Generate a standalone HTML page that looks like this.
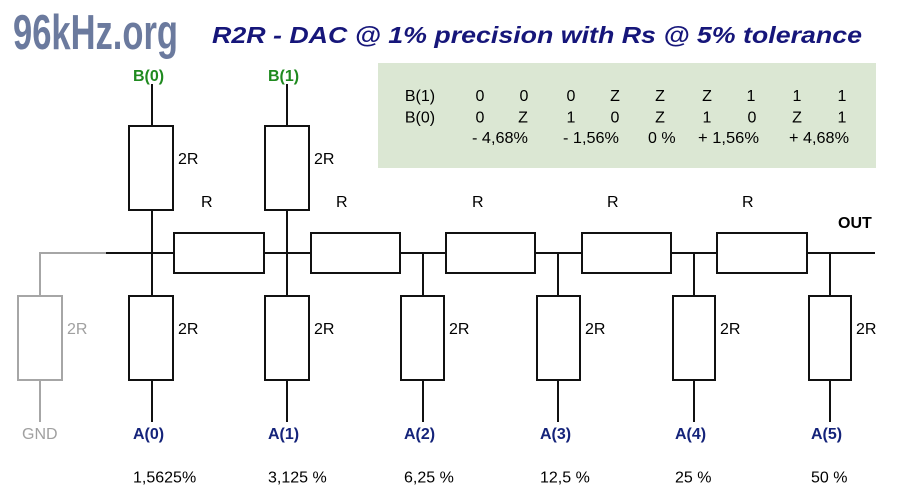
<!DOCTYPE html>
<html><head><meta charset="utf-8"><style>
html,body{margin:0;padding:0;background:#fff;width:900px;height:500px;overflow:hidden}
svg{display:block}
text{font-family:"Liberation Sans",Arial,sans-serif}
</style></head><body>
<svg width="900" height="500" viewBox="0 0 900 500" xmlns="http://www.w3.org/2000/svg">
<rect width="900" height="500" fill="#fff"/>
<!-- logo -->
<text x="13" y="49" font-size="49" font-weight="bold" fill="#6b7a9e" textLength="165" lengthAdjust="spacingAndGlyphs">96kHz.org</text>
<!-- title -->
<text x="212" y="43" font-size="23" font-weight="bold" font-style="italic" fill="#16167a" textLength="650" lengthAdjust="spacingAndGlyphs">R2R - DAC @ 1% precision with Rs @ 5% tolerance</text>
<!-- table -->
<rect x="378" y="63" width="498" height="105" fill="#dbe7d3"/>
<g font-size="16" fill="#000" text-anchor="middle">
<text x="420" y="101">B(1)</text>
<text x="420" y="122.5">B(0)</text>
<text x="480" y="101">0</text><text x="524" y="101">0</text><text x="571" y="101">0</text><text x="615" y="101">Z</text><text x="660" y="101">Z</text><text x="707" y="101">Z</text><text x="751" y="101">1</text><text x="797" y="101">1</text><text x="842" y="101">1</text>
<text x="480" y="122.5">0</text><text x="523" y="122.5">Z</text><text x="571" y="122.5">1</text><text x="615" y="122.5">0</text><text x="660" y="122.5">Z</text><text x="707" y="122.5">1</text><text x="752" y="122.5">0</text><text x="797" y="122.5">Z</text><text x="842" y="122.5">1</text>
</g>
<g font-size="16" fill="#000">
<text x="472" y="143" textLength="56" lengthAdjust="spacingAndGlyphs">- 4,68%</text>
<text x="563" y="143" textLength="56" lengthAdjust="spacingAndGlyphs">- 1,56%</text>
<text x="648" y="143">0 %</text>
<text x="698" y="143" textLength="61" lengthAdjust="spacingAndGlyphs">+ 1,56%</text>
<text x="789" y="143" textLength="60" lengthAdjust="spacingAndGlyphs">+ 4,68%</text>
</g>
<!-- gray GND branch -->
<g stroke="#a6a6a6" stroke-width="2" fill="none">
<polyline points="106,253 40,253 40,296"/>
<rect x="18" y="296" width="44" height="84" fill="#fff"/>
<line x1="40" y1="380" x2="40" y2="422"/>
</g>
<text x="67" y="334" font-size="16" fill="#a0a0a0">2R</text>
<text x="22" y="439" font-size="16" fill="#a0a0a0">GND</text>
<!-- black circuit -->
<g stroke="#111" stroke-width="2" fill="none">
<line x1="106" y1="253" x2="875" y2="253"/>
<!-- top B lines -->
<line x1="152" y1="84" x2="152" y2="126"/>
<line x1="287" y1="84" x2="287" y2="126"/>
<!-- col verticals -->
<line x1="152" y1="210" x2="152" y2="296"/>
<line x1="287" y1="210" x2="287" y2="296"/>
<line x1="423" y1="253" x2="423" y2="296"/>
<line x1="558" y1="253" x2="558" y2="296"/>
<line x1="694" y1="253" x2="694" y2="296"/>
<line x1="830" y1="253" x2="830" y2="296"/>
<!-- bottom lines -->
<line x1="152" y1="380" x2="152" y2="422"/>
<line x1="287" y1="380" x2="287" y2="422"/>
<line x1="423" y1="380" x2="423" y2="422"/>
<line x1="558" y1="380" x2="558" y2="422"/>
<line x1="694" y1="380" x2="694" y2="422"/>
<line x1="830" y1="380" x2="830" y2="422"/>
<!-- upper boxes -->
<rect x="129" y="126" width="44" height="84" fill="#fff"/>
<rect x="265" y="126" width="44" height="84" fill="#fff"/>
<!-- lower boxes -->
<rect x="129" y="296" width="44" height="84" fill="#fff"/>
<rect x="265" y="296" width="44" height="84" fill="#fff"/>
<rect x="401" y="296" width="43" height="84" fill="#fff"/>
<rect x="537" y="296" width="43" height="84" fill="#fff"/>
<rect x="673" y="296" width="42" height="84" fill="#fff"/>
<rect x="809" y="296" width="42" height="84" fill="#fff"/>
<!-- horizontal R boxes -->
<rect x="174" y="233" width="90" height="40" fill="#fff"/>
<rect x="311" y="233" width="89" height="40" fill="#fff"/>
<rect x="446" y="233" width="89" height="40" fill="#fff"/>
<rect x="582" y="233" width="89" height="40" fill="#fff"/>
<rect x="717" y="233" width="90" height="40" fill="#fff"/>
</g>
<!-- labels -->
<g font-size="16" fill="#000">
<text x="178" y="164">2R</text>
<text x="314" y="164">2R</text>
<text x="178" y="334">2R</text>
<text x="314" y="334">2R</text>
<text x="449" y="334">2R</text>
<text x="585" y="334">2R</text>
<text x="720" y="334">2R</text>
<text x="856" y="334">2R</text>
<text x="201" y="207">R</text>
<text x="336" y="207">R</text>
<text x="472" y="207">R</text>
<text x="607" y="207">R</text>
<text x="742" y="207">R</text>
<text x="838" y="228" font-weight="bold">OUT</text>
</g>
<g font-size="16" font-weight="bold" fill="#1f8a1f">
<text x="133" y="81">B(0)</text>
<text x="268" y="81">B(1)</text>
</g>
<g font-size="16" font-weight="bold" fill="#14237a">
<text x="133" y="439">A(0)</text>
<text x="268" y="439">A(1)</text>
<text x="404" y="439">A(2)</text>
<text x="540" y="439">A(3)</text>
<text x="675" y="439">A(4)</text>
<text x="811" y="439">A(5)</text>
</g>
<g font-size="16" fill="#000">
<text x="133" y="482.5">1,5625%</text>
<text x="268" y="482.5">3,125 %</text>
<text x="404" y="482.5">6,25 %</text>
<text x="540" y="482.5">12,5 %</text>
<text x="675" y="482.5">25 %</text>
<text x="811" y="482.5">50 %</text>
</g>
</svg>
</body></html>
